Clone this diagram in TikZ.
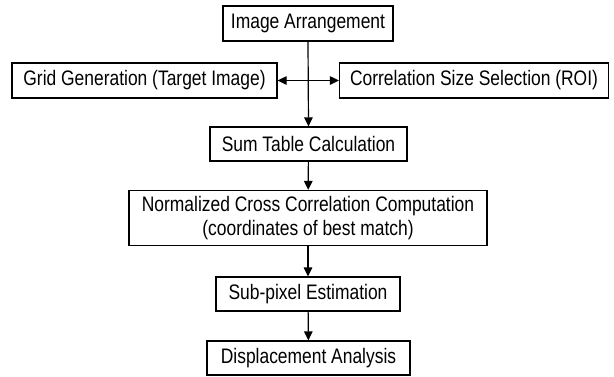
\documentclass[tikz,border=0pt]{standalone}
\usepackage{fontspec}
\setmainfont{Liberation Sans}[FakeStretch=0.83]
\usetikzlibrary{arrows.meta}
\begin{document}
\begin{tikzpicture}[x=1pt,y=-1pt,
  box/.style={draw=black,line width=1.2pt,inner sep=0pt,minimum height=35pt,align=center,
    font=\fontsize{21pt}{24pt}\selectfont},
  conn/.style={line width=1.2pt,-{Triangle[length=9pt,width=8.5pt]}},
  conn2/.style={line width=1.2pt,{Triangle[length=9pt,width=8.5pt]}-{Triangle[length=9pt,width=8.5pt]}}]
\useasboundingbox (0,0) rectangle (614,376);
\node[box,minimum width=170pt] (ia) at (308,23.5) {Image Arrangement};
\node[box,minimum width=265pt] (grid) at (144.5,80.5) {Grid Generation (Target Image)};
\node[box,minimum width=269pt] (corr) at (474,80.5) {Correlation Size Selection (ROI)};
\node[box,minimum width=197pt,minimum height=34pt] (sum) at (308.5,144) {Sum Table Calculation};
\node[box,minimum width=358pt,minimum height=55pt] (ncc) at (308,218) {Normalized Cross Correlation Computation\\(coordinates of best match)};
\node[box,minimum width=184pt,minimum height=34pt] (sub) at (308,294) {Sub-pixel Estimation};
\node[box,minimum width=203pt,minimum height=34pt] (disp) at (308.5,358) {Displacement Analysis};
\draw[conn] (ia.south) -- (sum.north);
\draw[conn2] (grid.east) -- (corr.west);
\draw[conn] (sum) -- (ncc);
\draw[conn] (ncc) -- (sub);
\draw[conn] (sub) -- (disp);
\end{tikzpicture}
\end{document}
